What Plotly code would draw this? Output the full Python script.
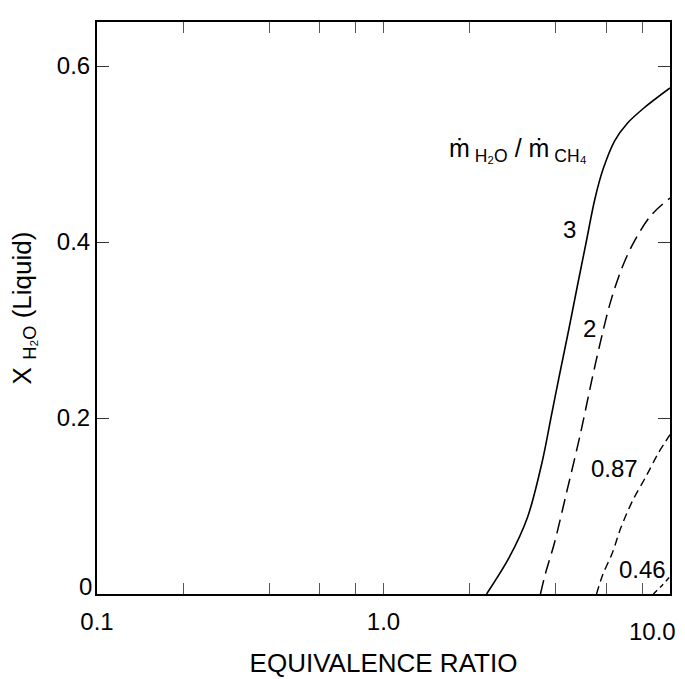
import numpy as np
import plotly.graph_objects as go

# ---- data ----
x_3 = [2.29, 2.74, 3.18, 3.59, 3.84, 4.12, 4.43, 4.75, 5.10, 5.46, 5.83, 6.41, 7.1, 8.09, 10.0]
y_3 = [0.0, 0.041, 0.087, 0.152, 0.2, 0.25, 0.3, 0.35, 0.4, 0.448, 0.482, 0.515, 0.535, 0.552, 0.575]

x_2 = [3.53, 3.68, 3.95, 4.36, 4.86, 5.35, 5.8, 6.2, 6.75, 7.4, 8.57, 10.0]
y_2 = [0.0, 0.024, 0.058, 0.116, 0.181, 0.245, 0.295, 0.332, 0.368, 0.397, 0.43, 0.45]

x_087 = [5.54, 5.84, 6.28, 6.75, 7.43, 8.26, 9.1, 10.0]
y_087 = [0.0, 0.023, 0.046, 0.076, 0.107, 0.134, 0.16, 0.181]

x_046 = [8.75, 9.4, 10.0]
y_046 = [0.0, 0.01, 0.02]

label_text = ["3", "2", "0.87", "0.46"]
label_x = [4.45, 5.25, 6.4, 8.0]
label_y = [0.414, 0.302, 0.143, 0.028]

header_text = "ṁ<sub> H₂O</sub> / ṁ<sub> CH₄</sub>"
header_x = 2.94
header_y = 0.504

x_tickvals = [0.1, 0.2, 0.4, 0.6, 0.8, 1.0, 2, 4, 6, 8, 10]
x_ticktext = ["0.1", "", "", "", "", "1.0", "", "", "", "", ""]
x_end_label = "10.0"
y_tickvals = [0, 0.2, 0.4, 0.6]
y_ticktext = ["", "0.2", "0.4", "0.6"]
y_zero_label = "0"

FONT = "Liberation Sans, Arial, sans-serif"

fig = go.Figure()
styles = [
    (x_3, y_3, "solid", 1.6),
    (x_2, y_2, "14px,7px", 1.5),
    (x_087, y_087, "8px,5px", 1.4),
    (x_046, y_046, "5px,4px", 1.4),
]
for xs, ys, dash, w in styles:
    fig.add_trace(go.Scatter(x=xs, y=ys, mode="lines",
                             line=dict(color="black", width=w, dash=dash, shape="spline", smoothing=0.9),
                             showlegend=False, hoverinfo="skip"))

for t, lx, ly in zip(label_text, label_x, label_y):
    fig.add_annotation(x=np.log10(lx), y=ly, text=t, showarrow=False,
                       font=dict(family=FONT, size=24, color="black"))

fig.add_annotation(x=np.log10(header_x), y=header_y, text=header_text, showarrow=False,
                   font=dict(family=FONT, size=25, color="black"))

# "0" label of the y axis sits slightly above its tick in the reference
fig.add_annotation(xref="paper", x=0, y=0, text=y_zero_label, showarrow=False,
                   xanchor="right", xshift=-3, yshift=8,
                   font=dict(family=FONT, size=24, color="black"))

# "10.0" label, right-aligned at the corner (would be clipped as a centred tick label)
fig.add_annotation(xref="paper", yref="paper", x=1, y=0, text=x_end_label, showarrow=False,
                   xanchor="right", yanchor="top", xshift=8, yshift=-22,
                   font=dict(family=FONT, size=24, color="black"))

fig.update_layout(
    width=685, height=679,
    margin=dict(l=97, r=15, t=22, b=85),
    paper_bgcolor="white", plot_bgcolor="white",
    font=dict(family=FONT, size=24, color="black"),
    xaxis=dict(type="log", range=[-1, 1], tickvals=x_tickvals, ticktext=x_ticktext,
               ticks="inside", ticklen=11, tickwidth=1, tickcolor="#555",
               ticklabelstandoff=5, automargin=False,
               tickfont=dict(family=FONT, size=24),
               showline=True, linecolor="black", linewidth=2, mirror="allticks",
               showgrid=False, zeroline=False,
               title=dict(text="EQUIVALENCE RATIO", standoff=20,
                          font=dict(family=FONT, size=26))),
    yaxis=dict(range=[0, 0.65], tickvals=y_tickvals, ticktext=y_ticktext,
               ticks="inside", ticklen=12, tickwidth=1, tickcolor="#333",
               automargin=False,
               tickfont=dict(family=FONT, size=24),
               showline=True, linecolor="black", linewidth=2, mirror="allticks",
               showgrid=False, zeroline=False,
               title=dict(text="X <sub>H₂O</sub> (Liquid)", standoff=18,
                          font=dict(family=FONT, size=26))),
)

fig.write_html("out.html")
